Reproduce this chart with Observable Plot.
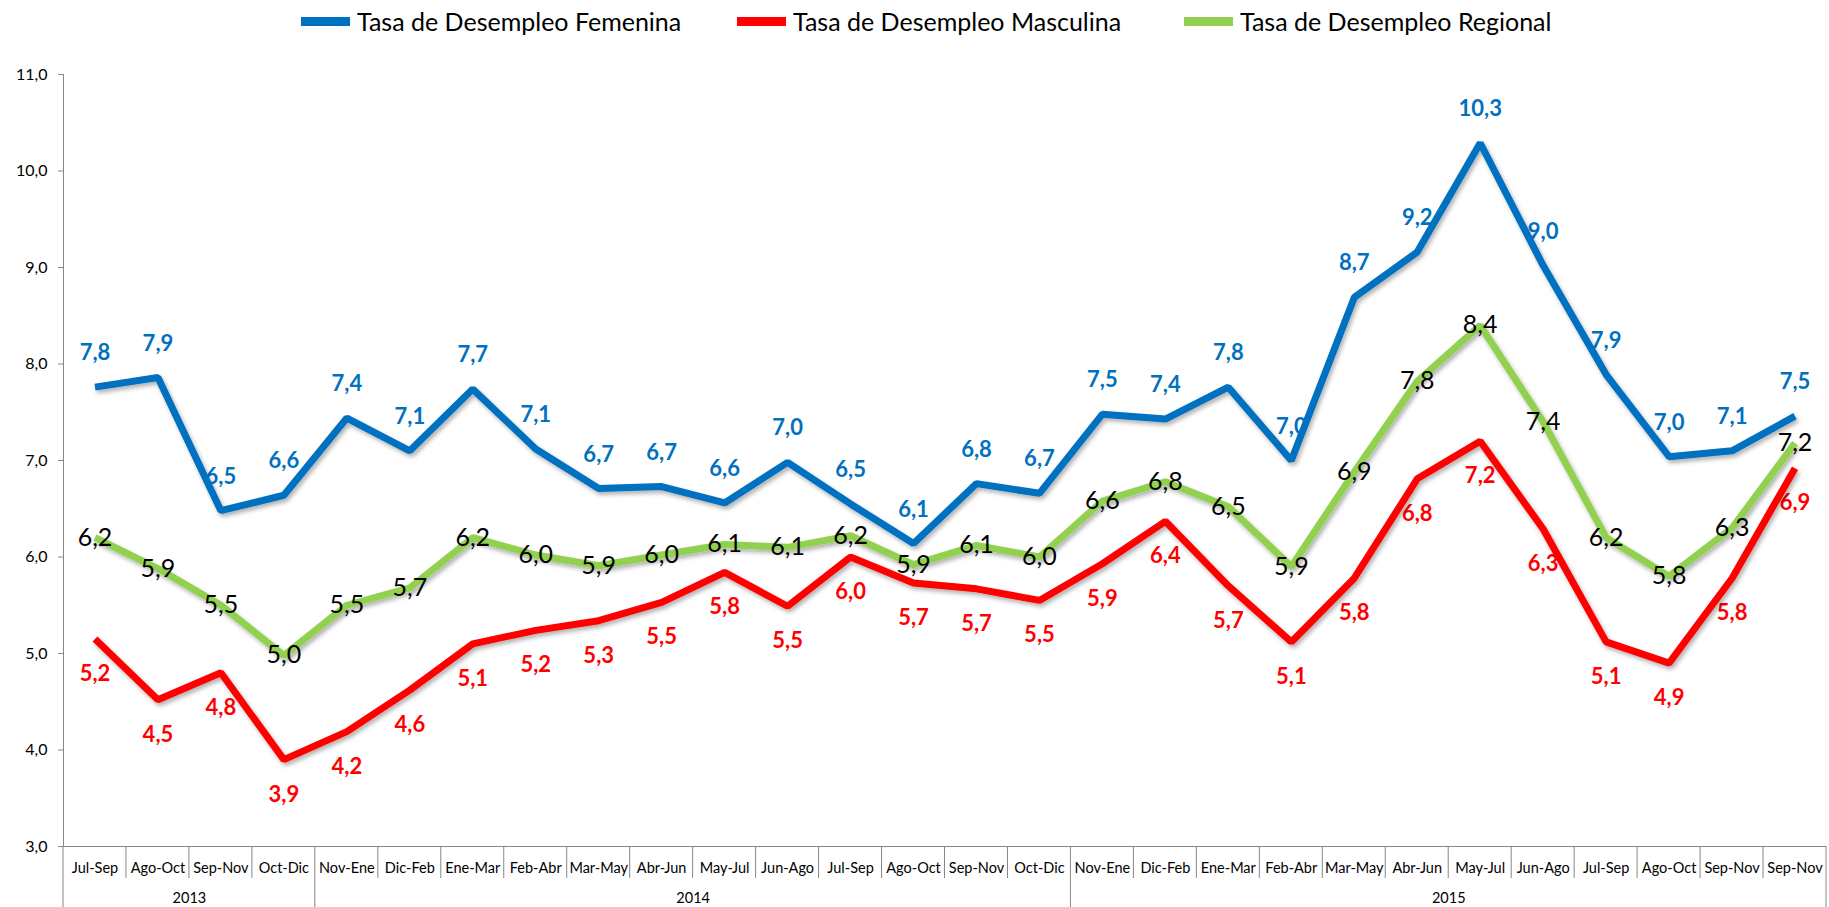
<!DOCTYPE html>
<html><head><meta charset="utf-8">
<script src="https://cdn.jsdelivr.net/npm/d3@7"></script>
<script src="https://cdn.jsdelivr.net/npm/@observablehq/plot@0.6"></script>
<style>
html,body{margin:0;padding:0;background:#fff;overflow:hidden;font-family:Lato,"Open Sans",sans-serif}
#legend{position:relative;width:1829px;height:42px}
.item{position:absolute;top:0;height:42px;display:flex;align-items:center;font-size:25px;color:#000;white-space:nowrap}
.sw{width:49px;height:9px;margin-right:7px}
#chart svg{display:block}
</style></head><body>
<div id="legend"></div>
<div id="chart"></div>
<script>
// ---- data ----
const periods = ["Jul-Sep","Ago-Oct","Sep-Nov","Oct-Dic","Nov-Ene","Dic-Feb","Ene-Mar","Feb-Abr","Mar-May","Abr-Jun","May-Jul","Jun-Ago","Jul-Sep","Ago-Oct","Sep-Nov","Oct-Dic","Nov-Ene","Dic-Feb","Ene-Mar","Feb-Abr","Mar-May","Abr-Jun","May-Jul","Jun-Ago","Jul-Sep","Ago-Oct","Sep-Nov","Sep-Nov"];
const yearLabels = ["2013","2014","2015"];
const yearCounts = [4, 12, 12];
const femenina  = [7.76,7.86,6.48,6.64,7.44,7.10,7.74,7.12,6.71,6.73,6.56,6.98,6.55,6.14,6.76,6.66,7.48,7.43,7.76,7.00,8.69,9.16,10.29,9.02,7.89,7.04,7.10,7.46];
const masculina = [5.15,4.52,4.80,3.90,4.19,4.62,5.10,5.24,5.34,5.53,5.84,5.49,6.00,5.73,5.67,5.55,5.93,6.37,5.70,5.12,5.78,6.81,7.20,6.29,5.12,4.90,5.78,6.92];
const regional  = [6.20,5.88,5.50,4.98,5.50,5.68,6.20,6.02,5.91,6.02,6.13,6.10,6.22,5.92,6.12,6.00,6.58,6.78,6.52,5.90,6.88,7.82,8.40,7.40,6.20,5.80,6.30,7.18];
const yTicks = [3,4,5,6,7,8,9,10,11];
const seriesNames = ["Tasa de Desempleo Femenina","Tasa de Desempleo Masculina","Tasa de Desempleo Regional"];
const seriesColors = ["#0070C0","#FF0000","#92D050"];

// ---- legend ----
const legendX = [301, 737, 1184];
const legend = document.getElementById("legend");
seriesNames.forEach((n,k)=>{
  const it = document.createElement("div");
  it.className = "item"; it.style.left = legendX[k] + "px";
  it.innerHTML = `<span class="sw" style="background:${seriesColors[k]}"></span><span>${n}</span>`;
  legend.appendChild(it);
});

// ---- tables ----
const fmt = v => v.toFixed(1).replace(".", ",");
const rows = periods.map((p,i)=>({i, x:i+0.5, period:p, fem:femenina[i], mas:masculina[i], reg:regional[i]}));
let acc = 0;
const years = yearLabels.map((y,k)=>{ const s = acc; acc += yearCounts[k]; return {label:y, start:s, end:acc, mid:(s+acc)/2}; });
const catBounds = d3.range(0, periods.length + 1);
const yearBounds = [0, ...years.map(y=>y.end)];

// separators in the category axis area, drawn with the x/y scales
const separators = (index, scales) => {
  const g = d3.create("svg:g").attr("stroke", "#868686").attr("stroke-width", 1);
  const y0 = scales.y(yTicks[0]);
  catBounds.forEach(b=>{
    const isYear = yearBounds.includes(b);
    g.append("line").attr("x1", scales.x(b)).attr("x2", scales.x(b))
      .attr("y1", y0).attr("y2", y0 + (isYear ? 62 : 32));
  });
  return g.node();
};

const chart = Plot.plot({
  width: 1829,
  height: 865,
  marginTop: 32,
  marginBottom: 61,
  marginLeft: 63,
  marginRight: 3,
  style: {fontFamily: "Lato, 'Open Sans', sans-serif", color: "#000", background: "#fff"},
  x: {type: "linear", domain: [0, periods.length], axis: null},
  y: {domain: [3, 11], axis: null},
  marks: [
    Plot.axisY({ticks: yTicks, tickFormat: fmt, tickSize: 5, tickPadding: 11, fontSize: 16, stroke: "#868686", fill: "#000"}),
    Plot.ruleX([0], {stroke: "#868686"}),
    Plot.ruleY([3], {stroke: "#868686"}),
    separators,
    Plot.text(rows, {x: "x", y: () => 3, text: "period", dy: 22, fontSize: 14.5, fill: "#000"}),
    Plot.text(years, {x: "mid", y: () => 3, text: "label", dy: 52, fontSize: 14.5, fill: "#000"}),
    Plot.text(rows, {x: "x", y: "fem", text: d => fmt(d.fem), dy: -34, fontSize: 22, fontWeight: "bold", fill: seriesColors[0]}),
    Plot.text(rows, {x: "x", y: "mas", text: d => fmt(d.mas), dy: 35, fontSize: 22, fontWeight: "bold", fill: seriesColors[1]}),
    Plot.line(rows, {x: "x", y: "fem", stroke: seriesColors[0], strokeWidth: 7, strokeLinejoin: "miter", strokeLinecap: "butt"}),
    Plot.line(rows, {x: "x", y: "mas", stroke: seriesColors[1], strokeWidth: 7, strokeLinejoin: "miter", strokeLinecap: "butt"}),
    Plot.line(rows, {x: "x", y: "reg", stroke: seriesColors[2], strokeWidth: 7, strokeLinejoin: "miter", strokeLinecap: "butt"}),
    Plot.text(rows, {x: "x", y: "reg", text: d => fmt(d.reg), fontSize: 25, fill: "#000"})
  ]
});

// soft drop shadow on the series lines, like the original
const svg = d3.select(chart);
svg.insert("defs", ":first-child").html(
  `<filter id="sh" x="-5%" y="-5%" width="110%" height="120%"><feDropShadow dx="2" dy="3" stdDeviation="2" flood-color="#000" flood-opacity="0.3"/></filter>`);
svg.selectAll("g[aria-label='line']").attr("filter", "url(#sh)");

document.getElementById("chart").appendChild(chart);
</script>
</body></html>
